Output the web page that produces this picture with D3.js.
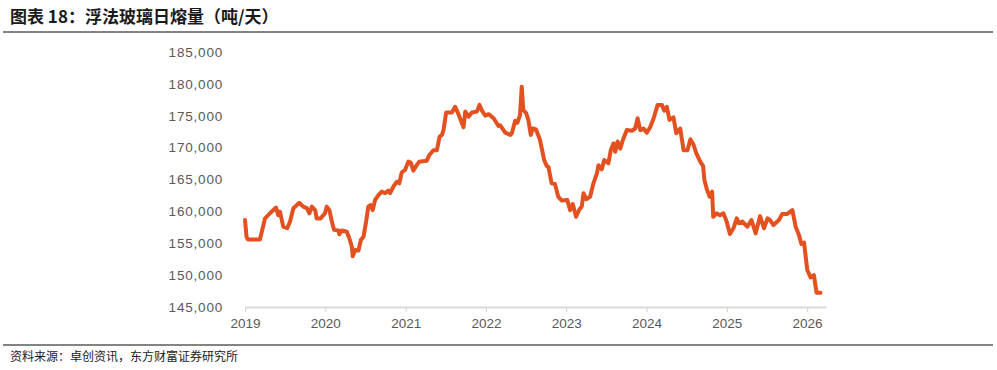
<!DOCTYPE html>
<html>
<head>
<meta charset="utf-8">
<script src="https://cdn.jsdelivr.net/npm/d3@7"></script>
<style>
	body { margin: 0; background: #fff; }
	svg { display: block; font-family: "Noto Sans CJK SC", "Noto Sans", sans-serif; }
</style>
</head>
<body>
<svg id="chart"></svg>
<script>
// title and source
const titleText = "图表 18：浮法玻璃日熔量（吨/天）";
const sourceText = "资料来源：卓创资讯，东方财富证券研究所";

// weekly-ish readings of the daily melt capacity (tonnes/day)
const dates = [
	"2019-01-01", "2019-01-08", "2019-01-14", "2019-03-10", "2019-04-02", "2019-05-02", "2019-05-22",
	"2019-06-01", "2019-06-09", "2019-06-24", "2019-07-12", "2019-07-25", "2019-08-09", "2019-09-05",
	"2019-09-23", "2019-10-09", "2019-10-21", "2019-11-01", "2019-11-16", "2019-11-23", "2019-12-11",
	"2019-12-31", "2020-01-08", "2020-01-20", "2020-01-31", "2020-02-10", "2020-03-01", "2020-03-05",
	"2020-03-16", "2020-04-08", "2020-04-20", "2020-05-01", "2020-05-05", "2020-05-16", "2020-05-31",
	"2020-06-11", "2020-06-23", "2020-07-05", "2020-07-15", "2020-07-26", "2020-08-04", "2020-08-15",
	"2020-08-30", "2020-09-14", "2020-09-29", "2020-10-14", "2020-10-22", "2020-11-06", "2020-11-22",
	"2020-12-03", "2020-12-14", "2020-12-29", "2021-01-13", "2021-01-24", "2021-02-05", "2021-02-20",
	"2021-03-04", "2021-04-07", "2021-04-19", "2021-05-07", "2021-05-23", "2021-06-04", "2021-06-15",
	"2021-06-22", "2021-07-04", "2021-07-30", "2021-08-14", "2021-08-29", "2021-09-14", "2021-09-21",
	"2021-09-29", "2021-10-14", "2021-10-29", "2021-11-21", "2021-12-03", "2021-12-14", "2021-12-29",
	"2022-01-13", "2022-02-05", "2022-02-27", "2022-03-07", "2022-03-30", "2022-04-22", "2022-04-29",
	"2022-05-14", "2022-05-24", "2022-06-05", "2022-06-13", "2022-06-20", "2022-07-03", "2022-07-13",
	"2022-07-24", "2022-08-02", "2022-08-17", "2022-09-04", "2022-09-23", "2022-10-05", "2022-10-12",
	"2022-10-27", "2022-11-11", "2022-11-26", "2022-12-12", "2023-01-06", "2023-01-19", "2023-01-31",
	"2023-02-15", "2023-03-02", "2023-03-13", "2023-03-21", "2023-04-02", "2023-04-20", "2023-05-05",
	"2023-05-21", "2023-05-28", "2023-06-12", "2023-06-23", "2023-07-12", "2023-07-23", "2023-08-04",
	"2023-08-12", "2023-08-23", "2023-09-04", "2023-09-16", "2023-10-04", "2023-10-27", "2023-11-11",
	"2023-11-22", "2023-12-04", "2023-12-19", "2024-01-03", "2024-01-18", "2024-02-03", "2024-02-21",
	"2024-03-12", "2024-03-22", "2024-04-03", "2024-04-15", "2024-05-03", "2024-05-16", "2024-06-03",
	"2024-06-18", "2024-07-06", "2024-07-19", "2024-08-03", "2024-08-15", "2024-09-02", "2024-09-15",
	"2024-09-21", "2024-10-03", "2024-10-15", "2024-10-26", "2024-10-31", "2024-11-15", "2024-11-30",
	"2024-12-16", "2024-12-31", "2025-01-15", "2025-01-31", "2025-02-15", "2025-02-25", "2025-03-13",
	"2025-04-04", "2025-04-23", "2025-05-12", "2025-06-01", "2025-06-19", "2025-07-05", "2025-07-16",
	"2025-08-01", "2025-08-26", "2025-09-10", "2025-10-03", "2025-10-26", "2025-11-10", "2025-11-25",
	"2025-12-06", "2025-12-18", "2026-01-02", "2026-01-17", "2026-02-01", "2026-02-13", "2026-03-03"
];
const meltValues = [
	158650, 156000, 155600, 155600, 158900, 159950, 160600,
	159400, 159950, 157600, 157350, 158400, 160500, 161350,
	160750, 160500, 159700, 160750, 160200, 158900, 158900,
	159700, 160750, 160200, 158400, 157100, 157000, 156400,
	157000, 156800, 155750, 154450, 152950, 153950, 153850,
	155500, 156000, 158400, 160750, 161000, 160200, 161800,
	162550, 163100, 162850, 163250, 162850, 163900, 164650,
	164400, 166100, 166500, 167800, 167650, 166400, 167250,
	167800, 167950, 168850, 169600, 169600, 171700, 172000,
	172750, 175500, 175500, 176400, 175250, 173800, 173200,
	175650, 174850, 175500, 175650, 176700, 175800, 175000,
	175250, 174600, 173400, 173500, 172350, 172000, 172250,
	174200, 173900, 175100, 179550, 175900, 175400, 174350,
	172000, 173000, 172850, 171200, 168050, 167100, 167000,
	164400, 164300, 162300, 161700, 161800, 160200, 161150,
	159150, 160300, 160750, 162850, 161900, 162300, 164400,
	165950, 167250, 166600, 168050, 167550, 169600, 170650,
	169350, 170950, 169850, 171200, 172750, 172650, 173000,
	174600, 172750, 173000, 172350, 173200, 174600, 176700,
	176700, 175800, 176400, 174350, 174750, 172250, 173000,
	169600, 169600, 171300, 170400, 169100, 167800, 167100,
	164900, 163350, 162300, 163100, 159150, 159700, 159400,
	159700, 158400, 156450, 157350, 158900, 158150, 158400,
	157600, 158650, 156550, 159250, 157350, 158900, 158650,
	157850, 158650, 159600, 159600, 160200, 157600, 156300,
	154900, 155100, 150800, 149650, 150000, 147250, 147250
];

// axis tick labels
const yearTicks = ["2019", "2020", "2021", "2022", "2023", "2024", "2025", "2026"];
const valueTicks = [145000, 150000, 155000, 160000, 165000, 170000, 175000, 180000, 185000];

const width = 997;
const height = 370;
const plot = { left: 245, right: 826, top: 52, bottom: 307 };

const parseDate = d3.timeParse("%Y-%m-%d");
const data = dates.map((d, i) => ({ date: parseDate(d), value: meltValues[i] }));

const svg = d3.select("#chart").attr("width", width).attr("height", height);

// title and the rule under it
svg.append("text")
	.attr("x", 10)
	.attr("y", 23)
	.attr("font-size", 17)
	.attr("font-weight", "bold")
	.attr("fill", "#1a1a1a")
	.text(titleText);
svg.append("line")
	.attr("x1", 3).attr("x2", 993)
	.attr("y1", 32).attr("y2", 32)
	.attr("stroke", "#5a5a5a")
	.attr("stroke-width", 1.5);

// scales
const x = d3.scaleTime()
	.domain([parseDate("2019-01-01"), parseDate("2026-03-28")])
	.range([plot.left, plot.right]);
const y = d3.scaleLinear()
	.domain([d3.min(valueTicks), d3.max(valueTicks)])
	.range([plot.bottom, plot.top]);

// y labels (no axis line)
const yAxis = d3.axisLeft(y)
	.tickValues(valueTicks)
	.tickSize(0)
	.tickPadding(0)
	.tickFormat(d3.format(","));
svg.append("g")
	.attr("transform", `translate(${223},0)`)
	.call(yAxis)
	.call((g) => g.select(".domain").remove())
	.call((g) => g.selectAll("text")
		.attr("font-size", 13.5)
		.attr("letter-spacing", 0.8)
		.attr("fill", "#595959")
		.attr("font-family", "'Liberation Sans', Arial, sans-serif"));

// x axis with years
const xAxis = d3.axisBottom(x)
	.tickValues(yearTicks.map((t) => parseDate(t + "-01-01")))
	.tickSize(5)
	.tickSizeOuter(0)
	.tickPadding(6)
	.tickFormat(d3.timeFormat("%Y"));
svg.append("g")
	.attr("transform", `translate(0,${plot.bottom})`)
	.call(xAxis)
	.call((g) => g.select(".domain").attr("stroke", "#d9d9d9").attr("stroke-width", 2))
	.call((g) => g.selectAll(".tick line").attr("stroke", "#d9d9d9").attr("stroke-width", 1.2))
	.call((g) => g.selectAll("text")
		.attr("font-size", 13.5)
		.attr("fill", "#595959")
		.attr("font-family", "'Liberation Sans Narrow', 'Liberation Sans', sans-serif"));

// the series line
const line = d3.line()
	.x((d) => x(d.date))
	.y((d) => y(d.value));
svg.append("path")
	.datum(data)
	.attr("d", line)
	.attr("fill", "none")
	.attr("stroke", "#e2511f")
	.attr("stroke-width", 4)
	.attr("stroke-linejoin", "round")
	.attr("stroke-linecap", "round");

// source rule and note
svg.append("line")
	.attr("x1", 3).attr("x2", 993)
	.attr("y1", 345).attr("y2", 345)
	.attr("stroke", "#5a5a5a")
	.attr("stroke-width", 1.5);
svg.append("text")
	.attr("x", 10)
	.attr("y", 361)
	.attr("font-size", 12)
	.attr("fill", "#1a1a1a")
	.text(sourceText);
</script>
</body>
</html>
